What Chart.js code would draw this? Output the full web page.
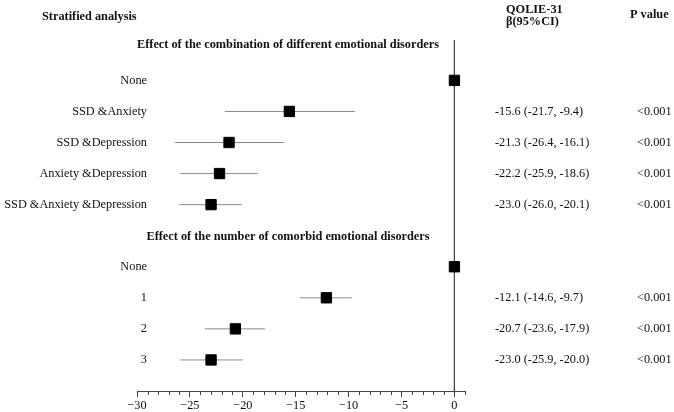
<!DOCTYPE html>
<html><head><meta charset="utf-8">
<script src="https://cdn.jsdelivr.net/npm/chart.js@4.4.1/dist/chart.umd.min.js"></script>
<style>html,body{margin:0;padding:0;background:#fff}#wrap{width:674px;height:412px;position:relative}</style>
</head><body><div id="wrap"><canvas id="c" width="674" height="412"></canvas></div>
<script>
const groupTitles = ['Effect of the combination of different emotional disorders', 'Effect of the number of comorbid emotional disorders'];
const group1Labels = ['None', 'SSD &Anxiety', 'SSD &Depression', 'Anxiety &Depression', 'SSD &Anxiety &Depression'];
const group1Beta = [0, -15.6, -21.3, -22.2, -23.0];
const group1Low = [null, -21.7, -26.4, -25.9, -26.0];
const group1High = [null, -9.4, -16.1, -18.6, -20.1];
const group1P = ['', '<0.001', '<0.001', '<0.001', '<0.001'];
const group2Labels = ['None', '1', '2', '3'];
const group2Beta = [0, -12.1, -20.7, -23.0];
const group2Low = [null, -14.6, -23.6, -25.9];
const group2High = [null, -9.7, -17.9, -20.0];
const group2P = ['', '<0.001', '<0.001', '<0.001'];
const xMin = -30, xMax = 1;

const FONT = '"Liberation Serif","Times New Roman",serif';
const groups = [
  {title: groupTitles[0], labels: group1Labels, beta: group1Beta, lo: group1Low, hi: group1High, p: group1P},
  {title: groupTitles[1], labels: group2Labels, beta: group2Beta, lo: group2Low, hi: group2High, p: group2P}
];
const headers = [], rows = [];
let r = 0;
groups.forEach(g => {
  headers.push({text: g.title, row: r}); r++;
  g.labels.forEach((l, i) => { rows.push({label: l, beta: g.beta[i], lo: g.lo[i], hi: g.hi[i], p: g.p[i], row: r}); r++; });
});
const yMin = -0.3, yMax = 11;
const headerShift = [-4, 1];

const fmt = v => v.toFixed(1);
const minus = v => v < 0 ? '\u2212' + Math.abs(v) : String(v);

const datasets = [];
datasets.push({
  data: rows.map(o => ({x: o.beta, y: o.row})),
  pointStyle: 'rect', pointRadius: 7.3, backgroundColor: '#000', borderColor: '#000', borderWidth: 1, showLine: false
});
rows.filter(o => o.lo != null).forEach(o => {
  datasets.push({data: [{x: o.lo, y: o.row}, {x: o.hi, y: o.row}], showLine: true, borderColor: '#8a8a8a', borderWidth: 1, pointRadius: 0});
});
datasets.push({data: [{x: 0, y: yMin}, {x: 0, y: yMax}], showLine: true, borderColor: '#444', borderWidth: 1, pointRadius: 0});

const textPlugin = {
  id: 'texts',
  afterDraw(chart) {
    const ctx = chart.ctx, ys = chart.scales.y, xs = chart.scales.x;
    ctx.save();
    // minor ticks
    ctx.strokeStyle = '#444'; ctx.lineWidth = 1;
    xs.ticks.forEach(t => {
      if (t.value % 5 !== 0) {
        const px = Math.round(xs.getPixelForValue(t.value)) + 0.5;
        ctx.beginPath(); ctx.moveTo(px, xs.top); ctx.lineTo(px, xs.top + 4); ctx.stroke();
      }
    });
    ctx.fillStyle = '#111';
    ctx.textBaseline = 'middle';
    ctx.font = 'bold 12.3px ' + FONT;
    ctx.textAlign = 'left';
    ctx.fillText('Stratified analysis', 42, 17);
    ctx.fillText('QOLIE-31', 506, 9.5);
    ctx.fillText('\u03b2(95%CI)', 506, 22);
    ctx.fillText('P value', 630, 15);
    ctx.textAlign = 'center';
    headers.forEach((h, i) => ctx.fillText(h.text, 288, ys.getPixelForValue(h.row) + headerShift[i]));
    ctx.font = '12.3px ' + FONT;
    rows.forEach(o => {
      const py = ys.getPixelForValue(o.row);
      ctx.textAlign = 'right';
      ctx.fillText(o.label, 147, py);
      ctx.textAlign = 'left';
      if (o.lo != null) {
        ctx.fillText(fmt(o.beta) + ' (' + fmt(o.lo) + ', ' + fmt(o.hi) + ')', 495, py);
        ctx.fillText(o.p, 637, py);
      }
    });
    ctx.restore();
  }
};

new Chart(document.getElementById('c'), {
  type: 'scatter',
  data: {datasets},
  options: {
    responsive: false, animation: false, devicePixelRatio: 1,
    layout: {padding: {left: 137, right: 209, top: 40, bottom: 0}},
    plugins: {legend: {display: false}, tooltip: {enabled: false}},
    scales: {
      x: {
        type: 'linear', min: xMin, max: xMax,
        afterFit: s => { s.height = 21; },
        border: {display: true, color: '#444', width: 1},
        grid: {display: true, drawOnChartArea: false, drawTicks: true, tickLength: 6,
          tickColor: c => (c.tick && c.tick.value % 5 === 0) ? '#444' : 'rgba(0,0,0,0)'},
        ticks: {stepSize: 1, maxTicksLimit: 100, autoSkip: false, maxRotation: 0, minRotation: 0, padding: 1,
          color: '#111', font: {family: FONT, size: 12.3},
          callback: v => v % 5 === 0 ? minus(v) : ''}
      },
      y: {type: 'linear', display: false, min: yMin, max: yMax, reverse: true}
    }
  },
  plugins: [textPlugin]
});
</script></body></html>
